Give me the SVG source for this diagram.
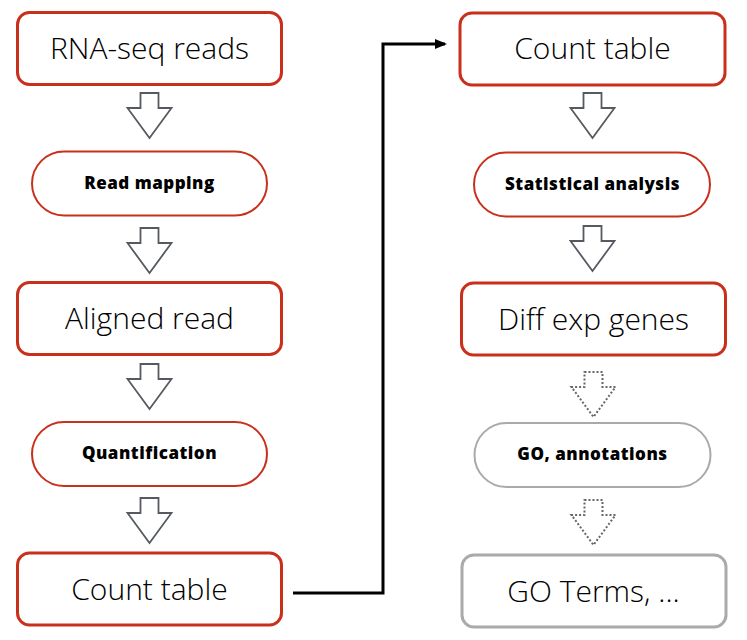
<svg xmlns="http://www.w3.org/2000/svg" width="747" height="640" viewBox="0 0 747 640">
<defs>
<style>
.box{fill:#fff;stroke:#c9301c;stroke-width:3}
.pill{fill:#fff;stroke:#c9301c;stroke-width:2}
.gbox{fill:#fff;stroke:#aaaaaa;stroke-width:3}
.gpill{fill:#fff;stroke:#aaaaaa;stroke-width:2}
.big{font-family:"Open Sans",Lato,sans-serif;font-size:30px;font-weight:300;fill:#000;text-anchor:middle}
.small{font-family:"Open Sans",Lato,sans-serif;font-size:17px;font-weight:800;letter-spacing:0.5px;fill:#000;text-anchor:middle}
.arr{fill:#fff;stroke:#555a60;stroke-width:1.8;stroke-linejoin:miter}
.darr{fill:#fff;stroke:#666;stroke-width:2;stroke-dasharray:2 2}
.conn{fill:none;stroke:#000;stroke-width:3}
</style>
<marker id="ah" markerWidth="12" markerHeight="12" refX="10" refY="5" orient="auto" markerUnits="userSpaceOnUse" viewBox="0 0 12 10">
<path d="M0,0 L12,5 L0,10 Z" fill="#000"/>
</marker>
</defs>

<g id="connectors">
<path class="conn" d="M293,593 H383 V44 H445" marker-end="url(#ah)"/>
<polygon class="arr" points="140.5,93 158.5,93 158.5,108 171.5,108 149.5,138 127.5,108 140.5,108"/>
<polygon class="arr" points="140.5,228 158.5,228 158.5,243 171.5,243 149.5,273 127.5,243 140.5,243"/>
<polygon class="arr" points="140.5,364 158.5,364 158.5,379 171.5,379 149.5,409 127.5,379 140.5,379"/>
<polygon class="arr" points="140.5,498 158.5,498 158.5,513 171.5,513 149.5,543 127.5,513 140.5,513"/>
<polygon class="arr" points="583.5,93 601.5,93 601.5,108 614.5,108 592.5,138 570.5,108 583.5,108"/>
<polygon class="arr" points="583.5,226 601.5,226 601.5,241 614.5,241 592.5,271 570.5,241 583.5,241"/>
<polygon class="darr" points="584.5,372 602.5,372 602.5,387 615.5,387 593.5,417 571.5,387 584.5,387"/>
<polygon class="darr" points="584.5,500 602.5,500 602.5,515 615.5,515 593.5,545 571.5,515 584.5,515"/>
</g>

<g id="rna-seq-reads">
<rect class="box" x="17.5" y="12.5" width="264" height="72" rx="12"/>
<text class="big" x="149.5" y="59">RNA-seq reads</text>
</g>
<g id="read-mapping">
<rect class="pill" x="32" y="151.5" width="235" height="64" rx="32"/>
<text class="small" x="149.5" y="189">Read mapping</text>
</g>
<g id="aligned-read">
<rect class="box" x="17.5" y="282.5" width="264" height="72" rx="12"/>
<text class="big" x="149.5" y="329">Aligned read</text>
</g>
<g id="quantification">
<rect class="pill" x="32" y="422" width="235" height="64" rx="32"/>
<text class="small" x="149.5" y="459">Quantification</text>
</g>
<g id="count-table-left">
<rect class="box" x="17.5" y="553" width="264" height="72" rx="12"/>
<text class="big" x="149.5" y="600">Count table</text>
</g>

<g id="count-table-right">
<rect class="box" x="460" y="13" width="265" height="72" rx="12"/>
<text class="big" x="592.5" y="59">Count table</text>
</g>
<g id="statistical-analysis">
<rect class="pill" x="474" y="152.5" width="236" height="64" rx="32"/>
<text class="small" x="592.5" y="190">Statistical analysis</text>
</g>
<g id="diff-exp-genes">
<rect class="box" x="461.5" y="283" width="264" height="72" rx="12"/>
<text class="big" x="593.5" y="330">Diff exp genes</text>
</g>
<g id="go-annotations">
<rect class="gpill" x="474.5" y="423" width="236" height="64" rx="32"/>
<text class="small" x="592.5" y="460">GO, annotations</text>
</g>
<g id="go-terms">
<rect class="gbox" x="462" y="555" width="264" height="72" rx="12"/>
<text class="big" x="593.5" y="602">GO Terms, ...</text>
</g>
</svg>
